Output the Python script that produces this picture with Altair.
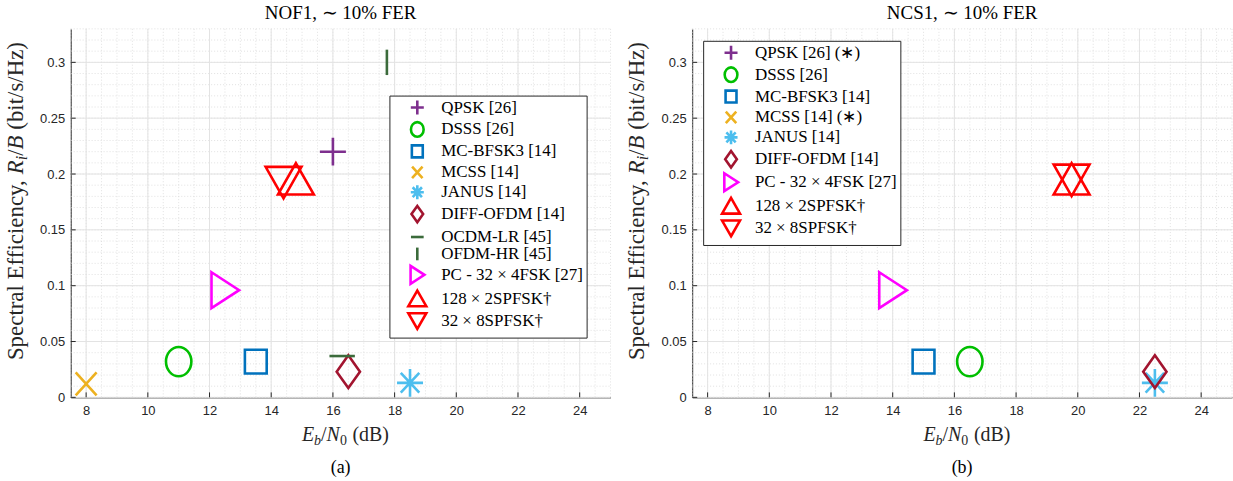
import altair as alt
import pandas as pd

SERIF = "Liberation Serif"
SANS = "Liberation Sans"
AX = "#262626"

# ---------------- data ----------------
# panel (a): NOF1
a_methods = ["QPSK [26]", "DSSS [26]", "MC-BFSK3 [14]", "MCSS [14]", "JANUS [14]",
             "DIFF-OFDM [14]", "OCDM-LR [45]", "OFDM-HR [45]", "PC - 32 × 4FSK [27]",
             "128 × 2SPFSK†", "32 × 8SPFSK†"]
a_keys = ["qpsk", "dsss", "bfsk", "mcss", "janus", "diff", "ocdm", "ofdm", "pc", "up", "down"]
a_ebn0 = [16.0, 11.0, 13.5, 8.0, 18.5, 16.5, 16.3, 17.75, 12.5, 14.8, 14.4]
a_eff = [0.22, 0.032, 0.032, 0.012, 0.013, 0.023, 0.037, 0.30, 0.096, 0.195, 0.193]

# panel (b): NCS1  (QPSK and MCSS did not reach the target -> no point)
b_methods = ["QPSK [26] (∗)", "DSSS [26]", "MC-BFSK3 [14]", "MCSS [14] (∗)", "JANUS [14]",
             "DIFF-OFDM [14]", "PC - 32 × 4FSK [27]", "128 × 2SPFSK†", "32 × 8SPFSK†"]
b_keys = ["qpsk", "dsss", "bfsk", "mcss", "janus", "diff", "pc", "up", "down"]
b_ebn0 = [None, 16.5, 15.0, None, 22.5, 22.5, 14.0, 19.8, 19.8]
b_eff = [None, 0.032, 0.032, None, 0.013, 0.023, 0.096, 0.195, 0.195]

x_ticks = [8, 10, 12, 14, 16, 18, 20, 22, 24]
y_ticks = [0, 0.05, 0.1, 0.15, 0.2, 0.25, 0.3]
x_minor = [7.5 + 0.5 * i for i in range(36)]
y_minor = [0.01 * i for i in range(34)]

# axis titles, split into (text, italic?, subscript?) pieces
x_title = [("E", True, False), ("b", True, True), ("/", False, False),
           ("N", True, False), ("0", False, True), ("(dB)", False, False)]
y_title_head = "Spectral Efficiency,"
y_title_tail = [("R", True, False), ("i", True, True), ("/", False, False),
                ("B", True, False), ("(bit/s/Hz)", False, False)]

# ---------------- styles ----------------
colors = {
    "qpsk": "#7E2F8E", "dsss": "#00BF00", "bfsk": "#0072BD", "mcss": "#EDB120",
    "janus": "#4DBEEE", "diff": "#A2142F", "ocdm": "#3B6B3B", "ofdm": "#3B6B3B",
    "pc": "#FF00FF", "up": "#FF0000", "down": "#FF0000",
}
shapes = {
    "qpsk": "M-0.87,0L0.87,0M0,-0.93L0,0.93",
    "dsss": "M-0.85,0A0.85,0.98,0,1,0,0.85,0A0.85,0.98,0,1,0,-0.85,0Z",
    "bfsk": "M-0.73,-0.8L0.73,-0.8L0.73,0.8L-0.73,0.8Z",
    "mcss": "M-0.7,-0.77L0.7,0.77M-0.7,0.77L0.7,-0.77",
    "janus": "M-0.87,0L0.87,0M0,-0.93L0,0.93M-0.62,-0.66L0.62,0.66M-0.62,0.66L0.62,-0.66",
    "diff": "M0,-1.1L0.78,0L0,1.1L-0.78,0Z",
    "ocdm": "M-0.85,0L0.85,0",
    "ofdm": "M0,-0.85L0,0.85",
    "pc": "M-0.9,-1.2L0.95,0L-0.9,1.2Z",
    "up": "M0,-1.1L1.2,1.0L-1.2,1.0Z",
    "down": "M0,1.1L1.2,-1.0L-1.2,-1.0Z",
}

# approximate advance widths (em) of Liberation Serif, used to chain title pieces
# (last-but-one pieces also carry the word space before "(")
ADV = {("E", True): 0.611, ("b", True): 0.5, ("/", False): 0.278, ("N", True): 0.667,
       ("0", False): 0.5 + 0.4, ("R", True): 0.611, ("i", True): 0.278,
       ("B", True): 0.611 + 0.25}

W, H = 542, 370
XD = [7.5, 25]
YD = [0, 0.33]

XAXIS = alt.Axis(values=x_ticks, grid=False, ticks=False, labelPadding=7,
                 title=None, domainColor=AX, labelColor=AX,
                 labelFont=SANS, labelFontSize=13)
YAXIS = alt.Axis(values=y_ticks, grid=False, ticks=False, format="~g",
                 labelPadding=6, domainColor=AX, labelColor=AX,
                 labelFont=SANS, labelFontSize=13, title=None)


def piece(text, size, italic, x, y, align="left", angle=0):
    return alt.Chart(pd.DataFrame({"t": [text]})).mark_text(
        font=SERIF, fontSize=size, fontStyle="italic" if italic else "normal",
        color=AX, baseline="alphabetic", align=align, angle=angle
    ).encode(text="t:N", x=alt.value(x), y=alt.value(y))


def x_title_layers():
    fs, ss = 20, 14
    total = sum(ADV.get((t, it), 0) * (ss if sub else fs) for t, it, sub in x_title[:-1])
    x0 = W / 2 + 5 - (total + 1.85 * fs) / 2
    out = []
    for t, it, sub in x_title:
        out.append(piece(t, ss if sub else fs, it, x0, H + 44 + (4 if sub else 0)))
        x0 += ADV.get((t, it), 0) * (ss if sub else fs)
    return out


def y_title_layers():
    fs, ss = 23, 16
    xb = -48
    y0 = 146
    out = [piece(y_title_head, fs, False, xb, y0 + 6, align="right", angle=270)]
    y = y0
    for t, it, sub in y_title_tail:
        out.append(piece(t, ss if sub else fs, it, xb + (4 if sub else 0), y, angle=270))
        y -= ADV.get((t, it), 0) * (ss if sub else fs)
    return out


def panel(methods, keys, ebn0, eff, title, caption, lx, ly):
    df = pd.DataFrame({"method": methods, "ebn0": ebn0, "eff": eff}).dropna()
    xs = alt.Scale(domain=XD, nice=False, zero=False)
    ys = alt.Scale(domain=YD, nice=False, zero=False)

    def X(f):
        return alt.X(f, scale=xs, axis=XAXIS)

    def Y(f):
        return alt.Y(f, scale=ys, axis=YAXIS)

    vminor = alt.Chart(pd.DataFrame({"g": x_minor})).mark_rule(
        color="#d9d9d9", strokeWidth=0.8, strokeDash=[1, 2]
    ).encode(x=X("g:Q"), y=alt.value(0), y2=alt.value(H))
    hminor = alt.Chart(pd.DataFrame({"g": y_minor})).mark_rule(
        color="#d9d9d9", strokeWidth=0.8, strokeDash=[1, 2]
    ).encode(y=Y("g:Q"), x=alt.value(0), x2=alt.value(W))
    vmajor = alt.Chart(pd.DataFrame({"g": x_ticks})).mark_rule(
        color="#e3e3e3", strokeWidth=1
    ).encode(x=X("g:Q"), y=alt.value(0), y2=alt.value(H))
    hmajor = alt.Chart(pd.DataFrame({"g": y_ticks})).mark_rule(
        color="#e3e3e3", strokeWidth=1
    ).encode(y=Y("g:Q"), x=alt.value(0), x2=alt.value(W))
    xtick = alt.Chart(pd.DataFrame({"g": x_ticks})).mark_rule(
        color=AX, strokeWidth=1
    ).encode(x=X("g:Q"), y=alt.value(H), y2=alt.value(H - 5))
    ytick = alt.Chart(pd.DataFrame({"g": y_ticks})).mark_rule(
        color=AX, strokeWidth=1
    ).encode(y=Y("g:Q"), x=alt.value(0), x2=alt.value(5))

    pts = alt.Chart(df).mark_point(filled=False, strokeWidth=2.6, size=900, opacity=1).encode(
        x=X("ebn0:Q"),
        y=Y("eff:Q"),
        color=alt.Color("method:N",
                        scale=alt.Scale(domain=methods, range=[colors[k] for k in keys]),
                        legend=alt.Legend(orient="none", legendX=lx, legendY=ly, title=None,
                                          fillColor="white", strokeColor=AX,
                                          padding=3, symbolOffset=16, labelOffset=15,
                                          rowPadding=-7, symbolSize=225,
                                          symbolStrokeWidth=2.6, labelFont=SERIF,
                                          labelFontSize=17, labelColor="black",
                                          labelLimit=300)),
        shape=alt.Shape("method:N",
                        scale=alt.Scale(domain=methods, range=[shapes[k] for k in keys]),
                        legend=None),
    )

    cap = alt.Chart(pd.DataFrame({"t": [caption]})).mark_text(
        font=SERIF, fontSize=18, color="black", baseline="alphabetic"
    ).encode(text="t:N", x=alt.value(W / 2), y=alt.value(H + 76))

    layers = [vminor, hminor, vmajor, hmajor, xtick, ytick, pts, cap]
    layers += x_title_layers() + y_title_layers()
    return alt.layer(*layers).properties(
        width=W, height=H,
        title=alt.TitleParams(title, font=SERIF, fontSize=19, fontWeight="normal",
                              color="black", anchor="middle", frame="group", offset=5),
    )


left = panel(a_methods, a_keys, a_ebn0, a_eff, "NOF1, ∼ 10% FER", "(a)", 320, 67)
right = panel(b_methods, b_keys, b_ebn0, b_eff, "NCS1, ∼ 10% FER", "(b)", 11, 12)

chart = alt.hconcat(left, right, spacing=14).resolve_scale(
    color="independent", shape="independent"
).resolve_legend(color="independent").configure_view(stroke=None).properties(
    padding={"left": 4, "top": 3, "right": 0, "bottom": 0}, background="white"
)

chart.save("out.html", embed_options={"renderer": "svg", "actions": False})
